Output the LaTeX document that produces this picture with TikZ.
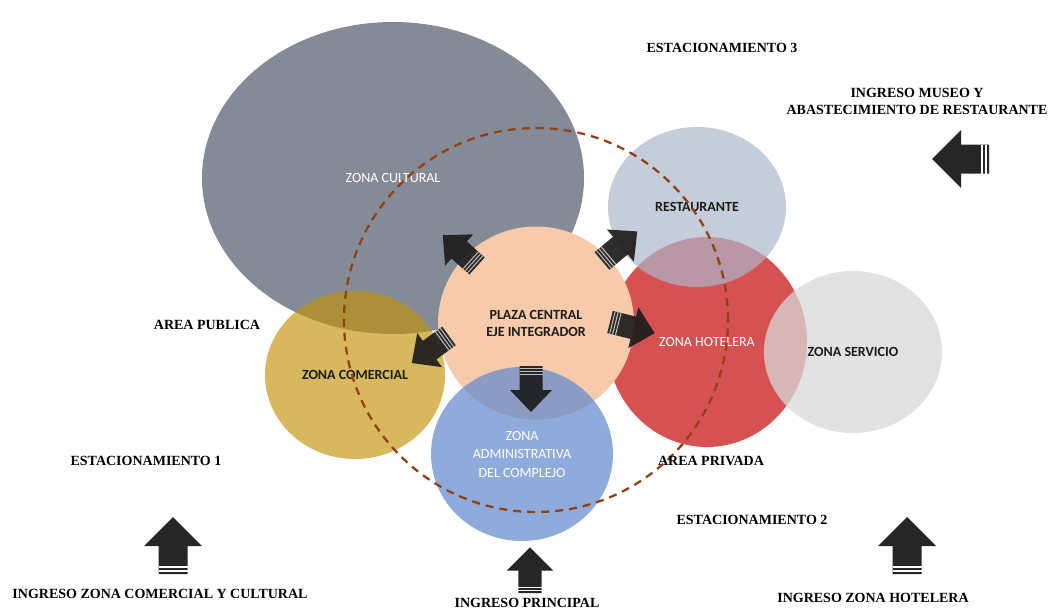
\documentclass[tikz,border=0pt]{standalone}
\usepackage{fontspec}
\setmainfont{Liberation Serif}
\newfontfamily\calibri{Carlito}
\usetikzlibrary{shapes.geometric,positioning}
\definecolor{cultural}{RGB}{133,139,150}
\definecolor{restaurante}{RGB}{172,182,202}
\definecolor{hotelera}{RGB}{214,82,82}
\definecolor{servicio}{RGB}{216,216,216}
\definecolor{plaza}{RGB}{246,202,170}
\definecolor{comercial}{RGB}{194,146,8}
\definecolor{admin}{RGB}{100,138,207}
\definecolor{borde}{RGB}{145,65,20}
\definecolor{oscuro}{RGB}{28,28,28}
\definecolor{flecha}{RGB}{38,38,38}

% flechas de bloque: cola en el origen, punta hacia +x
\tikzset{
  flechaext/.pic={
    \fill[flecha] (0,-14.5) -- (28,-14.5) -- (28,-29) -- (57,0) -- (28,29)
      -- (28,14.5) -- (0,14.5) -- cycle;
    \draw[white, line width=1.2pt] (3,-14.5) -- (3,14.5) (7,-14.5) -- (7,14.5);
  },
  flechaint/.pic={
    \fill[oscuro, fill opacity=0.92] (0,-11.5) -- (24,-11.5) -- (24,-21) -- (46,0)
      -- (24,21) -- (24,11.5) -- (0,11.5) -- cycle;
    \draw[white, opacity=0.7, line width=1pt] (2.5,-11.5) -- (2.5,11.5)
      (5.5,-11.5) -- (5.5,11.5) (8.5,-11.5) -- (8.5,11.5);
  }
}

\begin{document}
\begin{tikzpicture}[x=1pt, y=-1pt, font=\calibri\fontsize{14}{17}\selectfont]
  \tikzstyle{zona}=[ellipse, inner sep=0pt, align=center]
  \tikzstyle{clara}=[text=white]
  \tikzstyle{negra}=[text=oscuro, font=\calibri\bfseries\fontsize{14}{17}\selectfont]
  \tikzstyle{etiqueta}=[inner sep=0pt, align=center, text=black,
                        font=\bfseries\fontsize{14}{17}\selectfont]
  \useasboundingbox (0,0) rectangle (1057,611);

  % zonas
  \node[zona, clara, fill=cultural, minimum width=382pt, minimum height=312pt]
    (cultural) at (393,178) {ZONA CULTURAL};
  \node[zona, negra, fill=comercial, fill opacity=0.65, text opacity=1,
        minimum width=180pt, minimum height=168pt]
    (comercial) at (355,375) {ZONA COMERCIAL};
  \node[zona, clara, fill=hotelera, minimum width=200pt, minimum height=210pt]
    (hotelera) at (707,342) {ZONA HOTELERA};
  \node[zona, negra, fill=restaurante, fill opacity=0.7, text opacity=1,
        minimum width=178pt, minimum height=160pt]
    (restaurante) at (697,207) {RESTAURANTE};
  \node[zona, negra, fill=servicio, fill opacity=0.75, text opacity=1,
        minimum width=178pt, minimum height=162pt]
    (servicio) at (853,352) {ZONA SERVICIO};
  \node[zona, negra, fill=plaza, minimum width=196pt, minimum height=193pt]
    (plaza) at (536,323) {PLAZA CENTRAL\\EJE INTEGRADOR};
  \node[zona, clara, fill=admin, fill opacity=0.72, text opacity=1,
        minimum width=182pt, minimum height=174pt,
        font=\calibri\fontsize{14}{18.5}\selectfont]
    (admin) at (522,454) {ZONA\\ADMINISTRATIVA\\DEL COMPLEJO};

  % limite de la plaza
  \node[circle, draw=borde, line width=2.3pt, dash pattern=on 8pt off 6pt,
        minimum size=384pt, inner sep=0pt] (limite) at (536,320) {};

  % flechas desde la plaza
  \pic[rotate=138] at (477,266) {flechaint};
  \pic[rotate=40] at (602,261) {flechaint};
  \pic[rotate=-14] at (610,322) {flechaint};
  \pic[rotate=216] at (449,336) {flechaint};
  \pic[rotate=-90] at (531,366) {flechaint};

  % ingresos
  \pic[rotate=180] at (989,159) {flechaext};
  \pic[rotate=90] at (173,574) {flechaext};
  \pic[rotate=90, scale=0.8] at (530,593) {flechaext};
  \pic[rotate=90] at (907,574) {flechaext};

  % textos
  \node[etiqueta] (est3) at (722,48) {ESTACIONAMIENTO 3};
  \node[etiqueta] (museo) at (917,101) {INGRESO MUSEO Y\\ABASTECIMIENTO DE RESTAURANTE};
  \node[etiqueta] (publica) at (207,325) {AREA PUBLICA};
  \node[etiqueta] (est1) at (146,461) {ESTACIONAMIENTO 1};
  \node[etiqueta] (privada) at (711,461) {AREA PRIVADA};
  \node[etiqueta] (est2) at (752,520) {ESTACIONAMIENTO 2};
  \node[etiqueta] (ingcom) at (160,594) {INGRESO ZONA COMERCIAL Y CULTURAL};
  \node[etiqueta] (ingppal) at (527,603) {INGRESO PRINCIPAL};
  \node[etiqueta] (inghot) at (873,598) {INGRESO ZONA HOTELERA};
\end{tikzpicture}
\end{document}
